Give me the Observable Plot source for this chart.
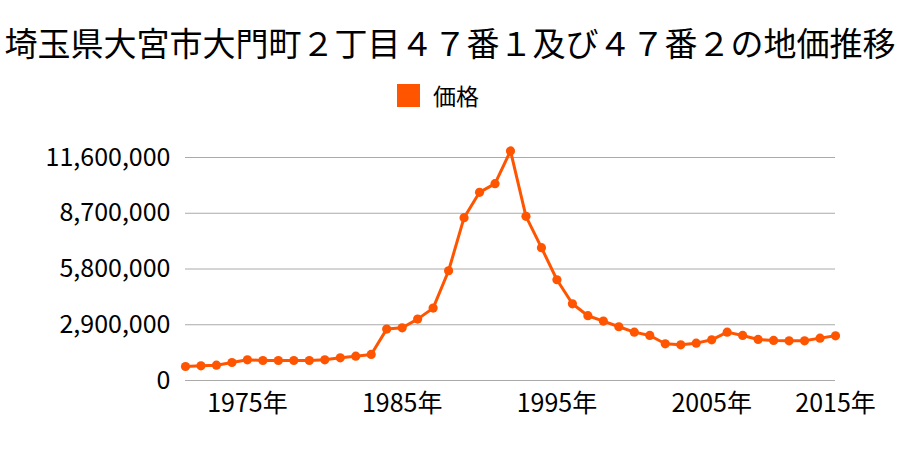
<!DOCTYPE html>
<html><head><meta charset="utf-8">
<script src="https://cdn.jsdelivr.net/npm/d3@7"></script>
<script src="https://cdn.jsdelivr.net/npm/@observablehq/plot@0.6"></script>
<style>
body{margin:0;background:#fff;font-family:"Noto Sans CJK JP",sans-serif;color:#000;}
#wrap{width:900px;height:450px;position:relative;overflow:hidden;}
#title{position:absolute;left:0;top:0;width:900px;height:84px;line-height:84px;text-align:center;font-size:33px;white-space:nowrap;}
#legend{position:absolute;left:397px;top:83px;height:24px;display:flex;align-items:center;font-size:23px;}
#legend .sw{width:23px;height:23px;background:#ff5500;margin-right:13px;}
#chart{position:absolute;left:0;top:120px;}
</style>
</head><body>
<div id="wrap">
  <div id="title">埼玉県大宮市大門町２丁目４７番１及び４７番２の地価推移</div>
  <div id="legend"><div class="sw"></div><span>価格</span></div>
  <div id="chart"></div>
</div>
<script>
const years = ["1971","1972","1973","1974","1975","1976","1977","1978","1979","1980",
  "1981","1982","1983","1984","1985","1986","1987","1988","1989","1990",
  "1991","1992","1993","1994","1995","1996","1997","1998","1999","2000",
  "2001","2002","2003","2004","2005","2007","2008","2009","2010","2011",
  "2012","2014","2015"];
const prices = [729000,764000,798000,937000,1076000,1041000,1041000,1041000,1041000,1076000,
  1180000,1267000,1354000,2673000,2742000,3193000,3766000,5710000,8470000,9788000,
  10240000,11940000,8540000,6910000,5240000,3990000,3370000,3090000,2795000,2516000,
  2343000,1909000,1857000,1943000,2118000,2516000,2343000,2135000,2083000,2065000,
  2065000,2204000,2326000];
const xTickYears = ["1975","1985","1995","2005","2015"];
const yTicks = [0,2900000,5800000,8700000,11600000];
const seriesName = "価格";

const data = years.map((y,i)=>({year:y, price:prices[i]}));
const color = "#ff5500";

const chart = Plot.plot({
  width:900, height:330,
  marginLeft:185, marginRight:65, marginTop:37, marginBottom:70,
  style:{fontSize:"25px", fontFamily:"'Noto Sans CJK JP', sans-serif", color:"#000", background:"#fff"},
  x:{type:"point", domain:years, padding:0, round:false, axis:null, label:null},
  y:{domain:[0,11600000], axis:null, label:null},
  marks:[
    Plot.gridY(yTicks,{stroke:"#aaa", strokeOpacity:1, strokeWidth:1}),
    Plot.line(data,{x:"year", y:"price", stroke:color, strokeWidth:3}),
    Plot.dot(data,{x:"year", y:"price", fill:color, r:4.6}),
    Plot.axisX(xTickYears,{tickSize:0, tickPadding:14, tickFormat:d=>d+"年", fontSize:25, label:null}),
    Plot.axisY(yTicks,{tickSize:0, tickPadding:15, tickFormat:d3.format(","), fontSize:25, label:null})
  ]
});
document.getElementById("chart").appendChild(chart);
</script>
</body></html>
